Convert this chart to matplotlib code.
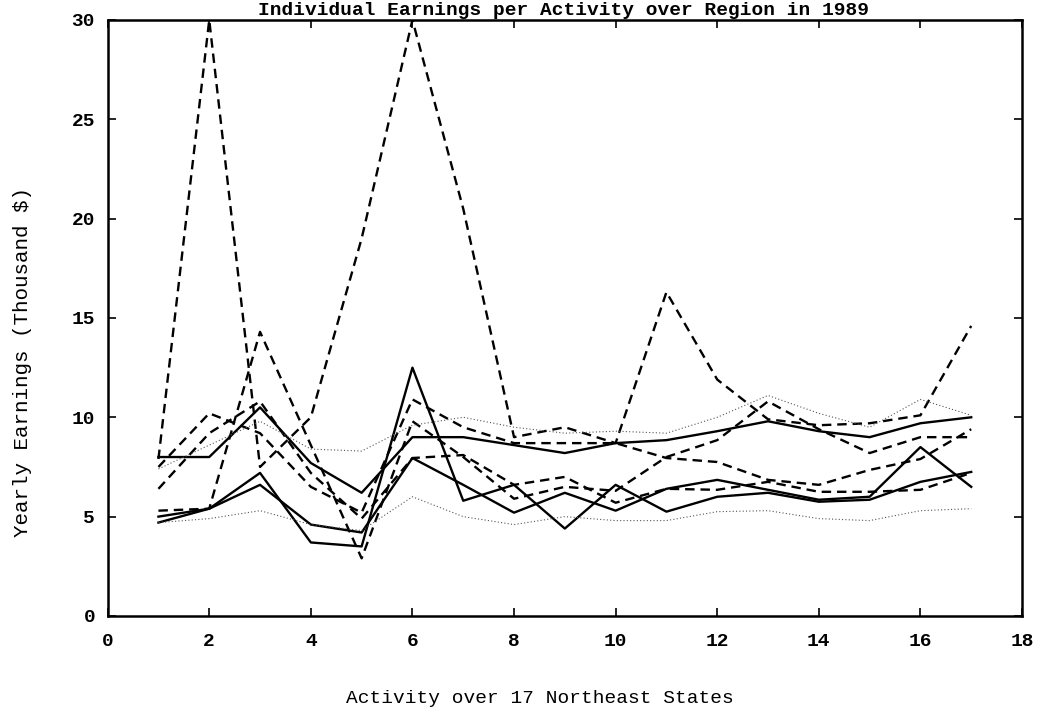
import numpy as np
import matplotlib
matplotlib.use("Agg")
import matplotlib.pyplot as plt

# activity index (x) and yearly earnings in thousand $ (y), one list per region
activity = list(range(1, 18))

solid_a = [8.0, 8.0, 10.5, 7.7, 6.2, 9.0, 9.0, 8.6, 8.2, 8.7, 8.85, 9.3, 9.8, 9.3, 9.0, 9.7, 10.0]
solid_b = [4.7, 5.4, 7.2, 3.7, 3.5, 12.5, 5.8, 6.6, 4.4, 6.6, 5.25, 6.0, 6.2, 5.75, 5.85, 6.75, 7.25]
solid_c = [5.0, 5.4, 6.6, 4.6, 4.2, 7.95, 6.6, 5.2, 6.2, 5.3, 6.4, 6.85, 6.35, 5.85, 6.0, 8.5, 6.5]

dash_a = [7.9, 30.0, 7.5, 10.0, 19.0, 30.0, 20.5, 9.0, 9.5, 8.7, 16.3, 11.9, 9.9, 9.6, 9.7, 10.1, 14.6]
dash_b = [5.3, 5.4, 14.3, 8.6, 2.9, 9.8, 8.0, 5.9, 6.5, 6.3, 8.0, 8.85, 10.8, 9.4, 8.2, 9.0, 9.0]
dash_c = [7.5, 10.2, 9.2, 6.5, 5.2, 10.9, 9.5, 8.7, 8.7, 8.7, 7.95, 7.75, 6.85, 6.6, 7.35, 7.9, 9.4]
dash_d = [6.4, 9.2, 10.8, 7.2, 4.9, 7.95, 8.1, 6.6, 7.0, 5.7, 6.4, 6.35, 6.75, 6.25, 6.25, 6.35, 7.2]

dot_a = [7.4, 8.6, 9.8, 8.4, 8.3, 9.6, 10.0, 9.5, 9.2, 9.3, 9.2, 10.0, 11.1, 10.2, 9.5, 10.9, 10.1]
dot_b = [4.7, 4.9, 5.3, 4.6, 4.3, 6.0, 5.0, 4.6, 5.0, 4.8, 4.8, 5.25, 5.3, 4.9, 4.8, 5.3, 5.4]

xticks = list(range(0, 19, 2))
yticks = [0, 5, 10, 15, 20, 25, 30]

plt.rcParams["font.family"] = ["Liberation Mono", "DejaVu Sans Mono"]
plt.rcParams["font.weight"] = "bold"

fig = plt.figure(figsize=(10.38, 7.08), dpi=100)
ax = fig.add_axes([0.1037, 0.130, 0.8809, 0.8418])

for ys in (solid_a, solid_b, solid_c):
    ax.plot(activity, ys, color="black", lw=1.7, ls="-")
for ys in (dash_a, dash_b, dash_c, dash_d):
    ax.plot(activity, ys, color="black", lw=1.7, ls=(0, (4, 2.5)))
for ys in (dot_a, dot_b):
    ax.plot(activity, ys, color="#555555", lw=0.8, ls=(0, (1, 2)))

ax.set_xlim(0, 18)
ax.set_ylim(0, 30)
ax.set_xticks(xticks)
ax.set_yticks(yticks)
ax.tick_params(direction="in", top=True, right=True, length=6, width=1.2,
               labelsize=14)
ax.tick_params(axis="x", pad=12)
ax.tick_params(axis="y", pad=9)
for s in ax.spines.values():
    s.set_linewidth(1.8)

ax.set_xlabel("Activity over 17 Northeast States", fontsize=14)
ax.xaxis.set_label_coords(0.473, -0.125)
ax.set_ylabel("Yearly Earnings (Thousand $)", fontsize=15)
ax.yaxis.set_label_coords(-0.083, 0.426)

fig.text(0.5425, 1 - 15 / 708, "Individual Earnings per Activity over Region in 1989",
         ha="center", va="baseline", fontsize=14)

fig.savefig("out.png", dpi=100)
